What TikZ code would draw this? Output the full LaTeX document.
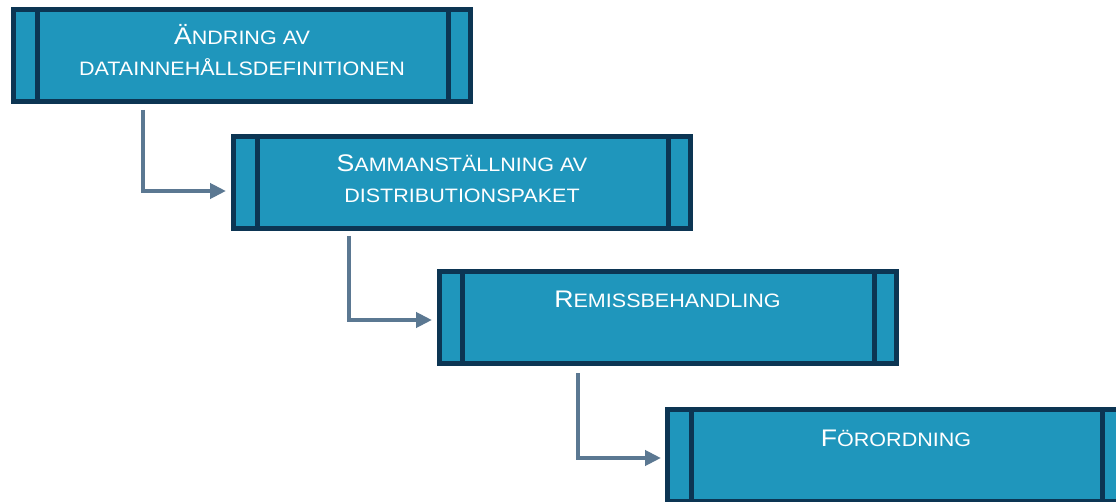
\documentclass[tikz,border=0pt]{standalone}
\usepackage{fontspec}
\usetikzlibrary{arrows.meta}
\newfontfamily\boxfont[FakeStretch=1.11]{Liberation Sans}
\newcommand\capbig[1]{{\fontsize{24}{24}\selectfont #1}}
\definecolor{boxfill}{HTML}{1F96BC}
\definecolor{boxline}{HTML}{0C3553}
\definecolor{arrcol}{HTML}{5B7892}
\tikzset{
  proc/.style={draw=boxline, fill=boxfill, line width=5pt, rectangle,
    minimum width=457pt, minimum height=92pt, inner sep=0pt, outer sep=0pt,
    path picture={
      \draw[boxline, line width=5pt]
        ([xshift=23.5pt]path picture bounding box.north west) -- ([xshift=23.5pt]path picture bounding box.south west)
        ([xshift=-22pt]path picture bounding box.north east) -- ([xshift=-22pt]path picture bounding box.south east);
    }},
  lbl/.style={anchor=base, text=white, inner sep=0pt,
    font=\boxfont\fontsize{19.4}{19.4}\selectfont},
  arr/.style={draw=arrcol, line width=4.3pt,
    -{Triangle[length=16pt,width=15pt]}}
}
\begin{document}
\begin{tikzpicture}[x=1pt,y=-1pt]
\useasboundingbox (0,0) rectangle (1116,502);
\clip (0,0) rectangle (1116,502);
\fill[white] (0,0) rectangle (1116,502);

\node[proc] (b1) at (242,55.5) {};
\node[proc] (b2) at (462,182.5) {};
\node[proc] (b3) at (667.5,318) {};
\node[proc] (b4) at (896,455.5) {};

\node[lbl] (t1a) at ([yshift=-35.5pt]b1.north) {\capbig{Ä}NDRING AV};
\node[lbl] (t1b) at ([yshift=-66.5pt]b1.north) {DATAINNEHÅLLSDEFINITIONEN};
\node[lbl] (t2a) at ([yshift=-35.5pt]b2.north) {\capbig{S}AMMANSTÄLLNING AV};
\node[lbl] (t2b) at ([yshift=-66.5pt]b2.north) {DISTRIBUTIONSPAKET};
\node[lbl] (t3) at ([yshift=-35.5pt]b3.north) {\capbig{R}EMISSBEHANDLING};
\node[lbl] (t4) at ([yshift=-36.5pt]b4.north) {\capbig{F}ÖRORDNING};

\coordinate (s1) at (143,110);
\coordinate (e1) at (226,191);
\coordinate (s2) at (349,236);
\coordinate (e2) at (432,320);
\coordinate (s3) at (578,373);
\coordinate (e3) at (661,458);
\draw[arr] (s1) |- (e1);
\draw[arr] (s2) |- (e2);
\draw[arr] (s3) |- (e3);
\end{tikzpicture}
\end{document}
